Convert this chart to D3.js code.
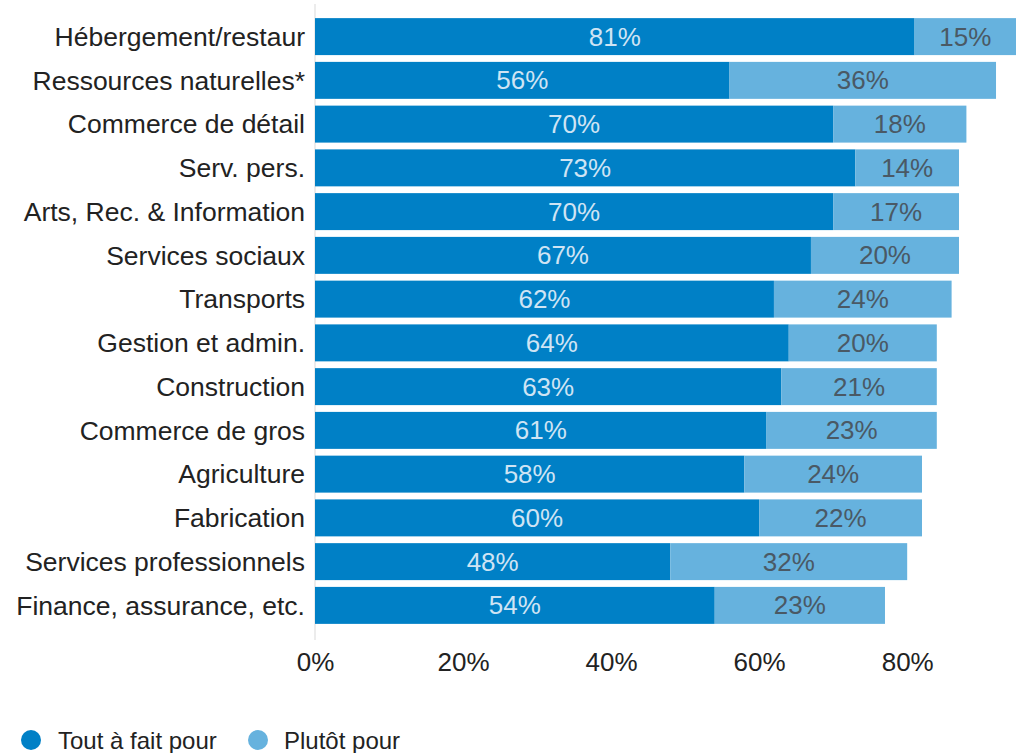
<!DOCTYPE html>
<html><head><meta charset="utf-8">
<script src="https://cdn.jsdelivr.net/npm/d3@7"></script>
<style>body{margin:0;background:#fff;}svg{display:block;font-family:"Liberation Sans",Arial,sans-serif;}</style>
</head><body>
<script>
const categories = ["Hébergement/restaur","Ressources naturelles*","Commerce de détail","Serv. pers.","Arts, Rec. & Information","Services sociaux","Transports","Gestion et admin.","Construction","Commerce de gros","Agriculture","Fabrication","Services professionnels","Finance, assurance, etc."];
const toutAFait = [81,56,70,73,70,67,62,64,63,61,58,60,48,54];
const plutot = [15,36,18,14,17,20,24,20,21,23,24,22,32,23];
const seriesNames = ["Tout à fait pour","Plutôt pour"];
const ticks = [0,20,40,60,80];

const W=1016,H=753;
const svg=d3.select("body").append("svg").attr("width",W).attr("height",H);
const x=d3.scaleLinear().domain([0,94.7]).range([315,1016]);
const y=d3.scaleBand().domain(categories).range([5,637]).paddingInner(0.155).paddingOuter(0.3);
const colors=["#0080c6","#66b2de"];
const textColors=["#cfe4f4","#4a5965"];

svg.append("line").attr("x1",x(0)).attr("x2",x(0)).attr("y1",4).attr("y2",640).attr("stroke","#e6e6e6").attr("stroke-width",1.5);

const data=categories.map((c,i)=>({c,v:[toutAFait[i],plutot[i]]}));
data.forEach(d=>{
  let acc=0;
  d.v.forEach((v,k)=>{
    const x0=x(acc),x1=x(acc+v);
    svg.append("rect").attr("x",x0).attr("y",y(d.c)).attr("width",x1-x0).attr("height",y.bandwidth()).attr("fill",colors[k]);
    svg.append("text").attr("x",(x0+Math.min(x1,W))/2).attr("y",y(d.c)+y.bandwidth()/2).attr("dy","0.35em")
      .attr("text-anchor","middle").attr("font-size",26).attr("fill",textColors[k]).text(v+"%");
    acc+=v;
  });
  svg.append("text").attr("x",305).attr("y",y(d.c)+y.bandwidth()/2).attr("dy","0.35em").attr("text-anchor","end")
    .attr("font-size",26.5).attr("fill","#222").text(d.c);
});

const ax=svg.append("g").attr("transform","translate(0,642)").call(d3.axisBottom(x).tickValues(ticks).tickFormat(d=>d+"%").tickSize(0).tickPadding(11));
ax.select(".domain").remove();
ax.selectAll("text").attr("font-size",26).attr("fill","#222").attr("font-family","Liberation Sans, Arial, sans-serif");

const leg=[{x:31,tx:58},{x:258,tx:284}];
seriesNames.forEach((n,i)=>{
  svg.append("circle").attr("cx",leg[i].x).attr("cy",740).attr("r",10).attr("fill",colors[i]);
  svg.append("text").attr("x",leg[i].tx).attr("y",741).attr("dy","0.35em").attr("font-size",24).attr("fill","#222").text(n);
});
</script>
</body></html>
